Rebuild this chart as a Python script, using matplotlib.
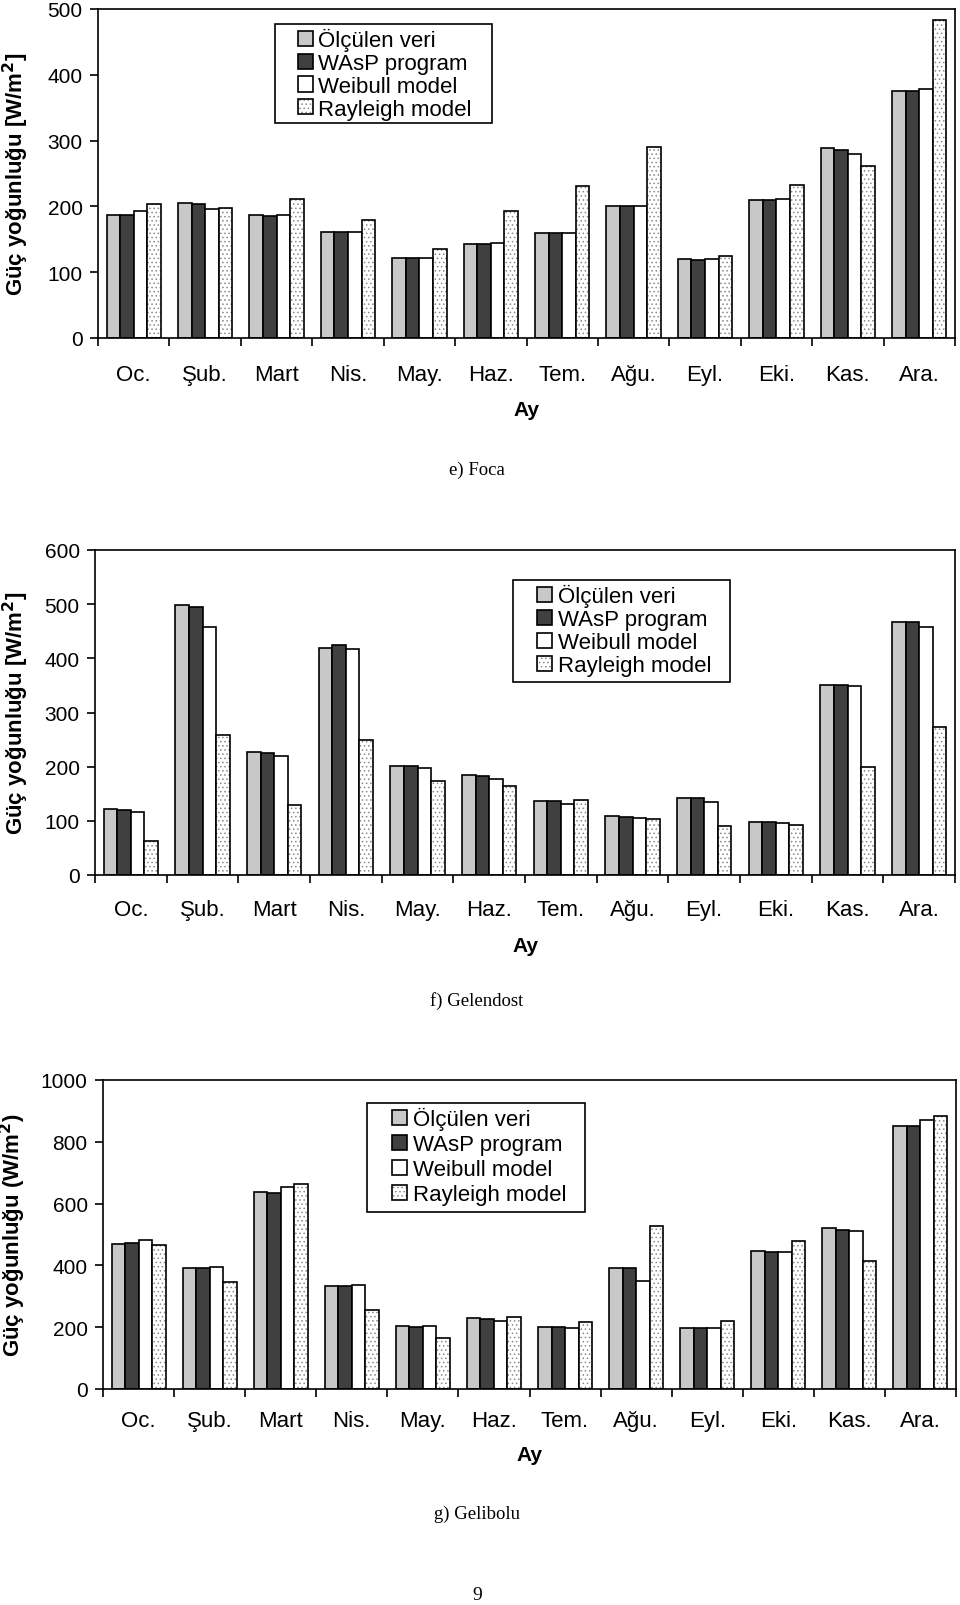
import numpy as np
import matplotlib.pyplot as plt
from matplotlib.patches import Patch, Rectangle

plt.rcParams['font.family'] = ['Liberation Sans', 'DejaVu Sans']
plt.rcParams['hatch.linewidth'] = 0.6

months = ['Oc.', 'Şub.', 'Mart', 'Nis.', 'May.', 'Haz.', 'Tem.', 'Ağu.', 'Eyl.', 'Eki.', 'Kas.', 'Ara.']
series_names = ['Ölçülen veri', 'WAsP program', 'Weibull model', 'Rayleigh model']

# e) Foca
foca_olculen = [187, 205, 187, 161, 122, 143, 160, 201, 120, 209, 288, 376]
foca_wasp = [187, 203, 185, 161, 122, 143, 159, 200, 118, 209, 286, 376]
foca_weibull = [193, 196, 187, 161, 122, 144, 160, 200, 120, 212, 280, 378]
foca_rayleigh = [204, 198, 211, 180, 135, 193, 231, 290, 125, 232, 261, 483]

# f) Gelendost
gel_olculen = [121, 499, 227, 420, 202, 184, 136, 109, 142, 98, 351, 467]
gel_wasp = [120, 495, 226, 424, 201, 183, 136, 108, 143, 98, 351, 467]
gel_weibull = [116, 457, 219, 417, 198, 178, 132, 105, 134, 96, 349, 458]
gel_rayleigh = [63, 258, 129, 250, 174, 164, 139, 103, 90, 92, 200, 274]

# g) Gelibolu
geli_olculen = [468, 390, 637, 332, 203, 229, 200, 390, 197, 445, 520, 852]
geli_wasp = [473, 393, 634, 332, 200, 228, 200, 391, 197, 442, 516, 851]
geli_weibull = [483, 396, 655, 337, 203, 219, 198, 350, 197, 444, 511, 870]
geli_rayleigh = [466, 346, 662, 255, 165, 234, 218, 526, 220, 480, 413, 884]

FILLS = ['#c8c8c8', '#404040', 'white', 'white']
DOTS = '....'
W, H = 960, 1606


def make_axes(fig, left, right, top, bottom):
    return fig.add_axes([left / W, 1 - bottom / H, (right - left) / W, (bottom - top) / H])


def draw_panel(ax, data, ymax, ystep, ylabel, leg_anchor, leg_spacing, box, caption, cap_y, xpad):
    x = np.arange(len(months))
    bw = 0.19
    for i, vals in enumerate(data):
        xs = x + (i - 1.5) * bw
        if i == 3:
            # grey dots first, black outline on top
            ax.bar(xs, vals, bw, color='white', edgecolor='#8a8a8a', linewidth=0, hatch=DOTS)
            ax.bar(xs, vals, bw, fill=False, edgecolor='black', linewidth=1.2)
        else:
            ax.bar(xs, vals, bw, color=FILLS[i], edgecolor='black', linewidth=1.2)
    ax.set_xlim(-0.5, len(months) - 0.5)
    ax.set_ylim(0, ymax)
    ax.set_yticks(np.arange(0, ymax + 1, ystep))
    ax.set_xticks(x)
    ax.set_xticklabels(months)
    ax.set_xticks(np.arange(-0.5, len(months)), minor=True)
    ax.tick_params(axis='x', which='major', length=0, pad=xpad, labelsize=16)
    ax.tick_params(axis='x', which='minor', length=6, width=1.2, direction='out')
    ax.tick_params(axis='y', length=6, width=1.2, direction='out', pad=5, labelsize=15)
    for s in ax.spines.values():
        s.set_linewidth(1.2)
    ax.set_ylabel(ylabel, fontsize=16, fontweight='bold')
    ax.set_xlabel('Ay', fontsize=15, fontweight='bold')

    handles = []
    for i in range(4):
        if i == 3:
            handles.append((Patch(facecolor='white', edgecolor='#8a8a8a', hatch=DOTS, linewidth=0),
                            Patch(fill=False, edgecolor='black', linewidth=1.2)))
        else:
            handles.append(Patch(facecolor=FILLS[i], edgecolor='black', linewidth=1.2))
    ax.legend(handles, series_names, loc='upper left', bbox_to_anchor=leg_anchor,
              borderaxespad=0, borderpad=0, fontsize=16, frameon=False,
              handlelength=0.68, handleheight=0.68, handletextpad=0.25,
              labelspacing=leg_spacing)
    x0, x1, y0, y1 = box
    ax.add_patch(Rectangle((x0, y0), x1 - x0, y1 - y0, transform=ax.transAxes,
                           fill=False, edgecolor='black', linewidth=1.2, zorder=5))
    ax.figure.text(0.497, 1 - cap_y / H, caption, ha='center', va='center',
                   fontsize=13.5, family='Liberation Serif')
    return ax


def main():
    fig = plt.figure(figsize=(W / 100, H / 100), dpi=100)

    ax1 = make_axes(fig, 98, 955, 10, 339)
    draw_panel(ax1, [foca_olculen, foca_wasp, foca_weibull, foca_rayleigh], 500, 100,
               'Güç yoğunluğu [W/m$^{\\mathbf{2}}$]', (0.233, 0.942), 0.08,
               (0.2065, 0.4597, 0.6535, 0.9544), 'e) Foca', 470, 19)
    ax1.yaxis.set_label_coords(-0.078, 0.5)
    ax1.xaxis.set_label_coords(0.5, -0.188)

    ax2 = make_axes(fig, 95, 955, 551, 876)
    draw_panel(ax2, [gel_olculen, gel_wasp, gel_weibull, gel_rayleigh], 600, 100,
               'Güç yoğunluğu [W/m$^{\\mathbf{2}}$]', (0.514, 0.895), 0.09,
               (0.486, 0.738, 0.594, 0.908), 'f) Gelendost', 1001, 17)
    ax2.yaxis.set_label_coords(-0.074, 0.5)
    ax2.xaxis.set_label_coords(0.5, -0.188)

    ax3 = make_axes(fig, 103, 956, 1081, 1390)
    draw_panel(ax3, [geli_olculen, geli_wasp, geli_weibull, geli_rayleigh], 1000, 200,
               'Güç yoğunluğu (W/m$^{\\mathbf{2}}$)', (0.339, 0.912), 0.18,
               (0.3095, 0.565, 0.573, 0.926), 'g) Gelibolu', 1514, 15)
    ax3.yaxis.set_label_coords(-0.088, 0.5)
    ax3.xaxis.set_label_coords(0.5, -0.181)

    fig.text(0.497, 1 - 1596 / H, '9', ha='center', va='center', fontsize=14,
             family='Liberation Serif')

    fig.savefig('out.png', dpi=100)


if __name__ == '__main__':
    main()
